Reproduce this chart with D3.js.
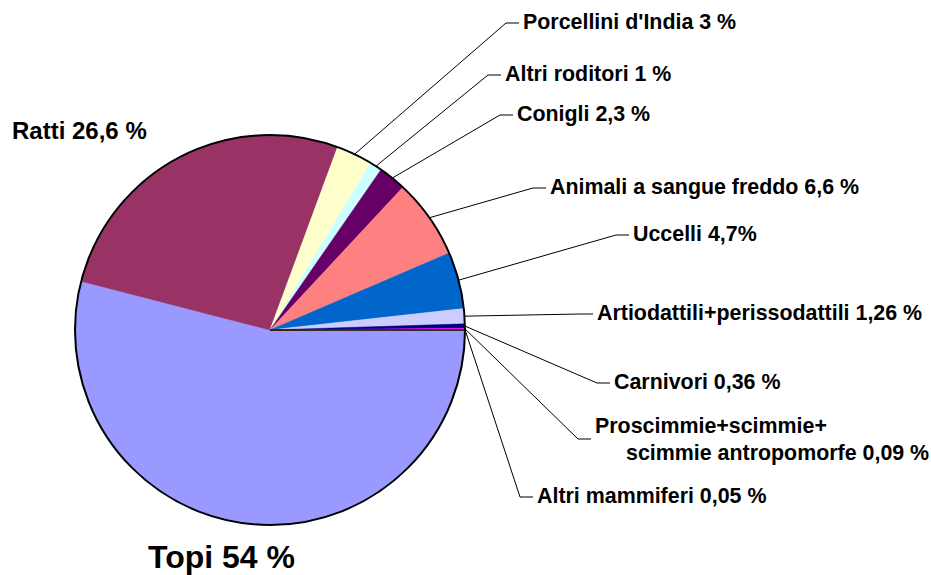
<!DOCTYPE html>
<html>
<head>
<meta charset="utf-8">
<style>
  body { margin: 0; background: #fff; }
  text { font-family: "Liberation Sans", Arial, sans-serif; font-weight: bold; fill: #000; }
</style>
</head>
<body>
<svg width="931" height="575"></svg>
<script src="https://d3js.org/d3.v7.min.js"></script>
<script>
  // slices, in drawing order (clockwise from 3 o'clock)
  var categories = ["Topi", "Ratti", "Porcellini d'India", "Altri roditori", "Conigli",
                    "Animali a sangue freddo", "Uccelli", "Artiodattili+perissodattili",
                    "Carnivori", "Proscimmie+scimmie+scimmie antropomorfe", "Altri mammiferi"];
  var values = [54, 26.6, 3, 1, 2.3, 6.6, 4.7, 1.26, 0.36, 0.09, 0.05];
  var labels = [
    ["Topi 54 %"],
    ["Ratti 26,6 %"],
    ["Porcellini d'India 3 %"],
    ["Altri roditori 1 %"],
    ["Conigli 2,3 %"],
    ["Animali a sangue freddo 6,6 %"],
    ["Uccelli 4,7%"],
    ["Artiodattili+perissodattili 1,26 %"],
    ["Carnivori 0,36 %"],
    ["Proscimmie+scimmie+", "scimmie antropomorfe 0,09 %"],
    ["Altri mammiferi 0,05 %"]
  ];
  var colors = ["#9999ff", "#993366", "#ffffcc", "#ccffff", "#660066", "#ff8080",
                "#0066cc", "#ccccff", "#000080", "#ff00ff", "#ffff00"];

  // label layout: text x, first baseline, font size, leader line, indent of 2nd line
  var layout = [
    {x: 148, y: 568, size: 32, leader: false},
    {x: 12,  y: 139, size: 24, leader: false},
    {x: 523, y: 29,  size: 21.4, leader: true},
    {x: 505, y: 81,  size: 21.4, leader: true},
    {x: 517, y: 121, size: 21.4, leader: true},
    {x: 550, y: 194, size: 21.4, leader: true},
    {x: 633, y: 241, size: 21.4, leader: true},
    {x: 597, y: 320, size: 21.4, leader: true},
    {x: 614, y: 389, size: 21.4, leader: true},
    {x: 595, y: 433, size: 21.4, leader: true, indent: 31, tickY: 439},
    {x: 537, y: 503, size: 21.4, leader: true}
  ];

  var svg = d3.select("svg"),
      cx = 270, cy = 330, radius = 195;

  var data = categories.map(function(c, i) {
    return {name: c, value: values[i], color: colors[i], label: labels[i], pos: layout[i]};
  });

  var pie = d3.pie()
      .sort(null)
      .value(function(d) { return d.value; })
      .startAngle(Math.PI / 2)
      .endAngle(Math.PI / 2 + 2 * Math.PI);

  var arc = d3.arc().innerRadius(0).outerRadius(radius);

  var arcs = pie(data);

  var g = svg.append("g").attr("transform", "translate(" + cx + "," + cy + ")");

  g.selectAll("path.slice")
      .data(arcs)
    .enter().append("path")
      .attr("class", "slice")
      .attr("fill", function(d) { return d.data.color; })
      .attr("stroke", function(d) { return d.data.color; })
      .attr("stroke-width", 0.5)
      .attr("d", arc);

  // edge of the first slice
  var p0 = d3.pointRadial(arcs[0].startAngle, radius);
  g.append("line")
      .attr("x1", 0).attr("y1", 0)
      .attr("x2", p0[0]).attr("y2", p0[1])
      .attr("stroke", "#000")
      .attr("stroke-width", 1.3);

  g.append("circle")
      .attr("r", radius)
      .attr("fill", "none")
      .attr("stroke", "#000")
      .attr("stroke-width", 2);

  // leader lines
  arcs.forEach(function(d) {
    var pos = d.data.pos;
    if (!pos.leader) return;
    var mid = (d.startAngle + d.endAngle) / 2,
        e = d3.pointRadial(mid, radius),
        ty = pos.tickY !== undefined ? pos.tickY : pos.y - 6,
        x1 = pos.x - 17, x2 = pos.x - 4;
    svg.append("path")
        .attr("fill", "none")
        .attr("stroke", "#000")
        .attr("stroke-width", 1)
        .attr("d", d3.line()([[cx + e[0], cy + e[1]], [x1, ty], [x2, ty]]));
  });

  // labels
  data.forEach(function(d) {
    var pos = d.pos;
    var t = svg.append("text")
        .attr("x", pos.x)
        .attr("y", pos.y)
        .style("font-size", pos.size + "px");
    d.label.forEach(function(line, i) {
      t.append("tspan")
          .attr("x", pos.x + (i > 0 ? pos.indent : 0))
          .attr("dy", i > 0 ? "1.26em" : 0)
          .text(line);
    });
  });
</script>
</body>
</html>
